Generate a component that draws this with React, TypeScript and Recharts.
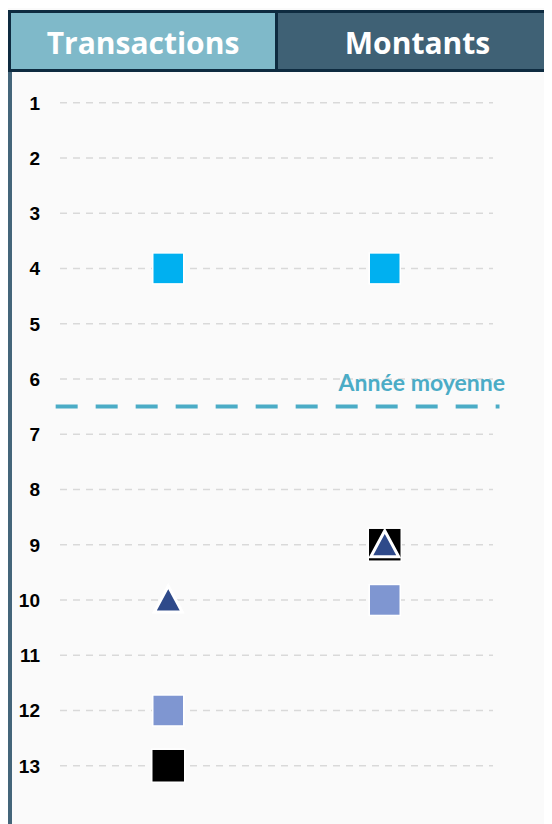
import React from 'react';
import { ScatterChart, Scatter, XAxis, YAxis, CartesianGrid, ReferenceLine } from 'recharts';

const columns = ['Transactions', 'Montants'];
const rankTicks = [1, 2, 3, 4, 5, 6, 7, 8, 9, 10, 11, 12, 13];

// rank per column: [Transactions, Montants]
const cyanSquare = [4, 4];
const navyTriangle = [10, 9];
const lavenderSquare = [12, 10];
const blackSquare = [13, 9];
const averageYear = 6.5;
const averageLabel = 'Année moyenne';

const toPoints = (ranks: number[]) => ranks.map((r, i) => ({ x: i, y: r }));

const square = (fill: string, size: number) => (props: any) => (
  <rect
    x={props.cx - size / 2}
    y={props.cy - size / 2}
    width={size}
    height={size}
    fill={fill}
    stroke="#ffffff"
    strokeWidth={1.5}
  />
);

const triangle = (props: any) => {
  const { cx, cy } = props;
  return (
    <path
      d={`M${cx},${cy - 14} L${cx + 14},${cy + 12} L${cx - 14},${cy + 12} Z`}
      fill="#2f4a8a"
      stroke="#ffffff"
      strokeWidth={3}
      strokeLinejoin="miter"
    />
  );
};

const RankTick = (props: any) => (
  <text
    x={props.x}
    y={props.y}
    dy={7}
    textAnchor="end"
    fontFamily="'Liberation Sans', Arial, sans-serif"
    fontWeight="bold"
    fontSize={19}
    fill="#000"
  >
    {props.payload.value}
  </text>
);

const AverageLabel = (props: any) => {
  const { viewBox } = props;
  return (
    <text
      x={viewBox.x + viewBox.width + 12}
      y={viewBox.y - 16}
      textAnchor="end"
      fontFamily="Lato, sans-serif"
      fontWeight="bold"
      fontSize={23}
      fill="#4bacc6"
    >
      {averageLabel}
    </text>
  );
};

const headerText: React.CSSProperties = {
  color: '#ffffff',
  fontFamily: "'Open Sans', sans-serif",
  fontWeight: 700,
  fontSize: 30,
  display: 'flex',
  alignItems: 'center',
  justifyContent: 'center',
  height: '100%',
  boxSizing: 'border-box',
  paddingTop: 3,
};

export default function App() {
  return (
    <div style={{ position: 'relative', width: 544, height: 816, background: '#fafafa', overflow: 'hidden' }}>
      <div
        style={{
          position: 'absolute',
          top: 2,
          left: 0,
          width: 552,
          height: 62,
          display: 'flex',
          border: '3px solid #0e2b40',
          boxSizing: 'border-box',
          background: '#0e2b40',
        }}
      >
        <div style={{ ...headerText, width: 264, background: '#7fb9c9' }}>{columns[0]}</div>
        <div style={{ ...headerText, flex: 1, marginLeft: 3, background: '#3f6175' }}>{columns[1]}</div>
      </div>
      <div style={{ position: 'absolute', left: 0, top: 64, width: 4, bottom: 0, background: '#44657a' }} />
      <div style={{ position: 'absolute', left: 0, top: 0 }}>
        <ScatterChart width={544} height={816} margin={{ top: 67, right: 59, bottom: 3, left: 0 }}>
          <CartesianGrid
            vertical={false}
            horizontalValues={rankTicks}
            stroke="#d9d9d9"
            strokeWidth={1.5}
            strokeDasharray="7 6"
          />
          <XAxis type="number" dataKey="x" domain={[-0.5, 1.5]} hide />
          <YAxis
            type="number"
            dataKey="y"
            domain={[0.5, 14]}
            reversed
            ticks={rankTicks}
            interval={0}
            width={52}
            axisLine={false}
            tickLine={false}
            tickSize={0}
            tickMargin={20}
            tick={<RankTick />}
          />
          <ReferenceLine
            segment={[
              { x: -0.52, y: averageYear },
              { x: 1.53, y: averageYear },
            ]}
            ifOverflow="visible"
            stroke="#4bacc6"
            strokeWidth={4}
            strokeDasharray="22 18"
          />
          <ReferenceLine y={averageYear} stroke="none" label={<AverageLabel />} />
          <Scatter data={toPoints(blackSquare)} shape={square('#000000', 33)} isAnimationActive={false} />
          <Scatter data={toPoints(cyanSquare)} shape={square('#00b0f0', 31)} isAnimationActive={false} />
          <Scatter data={toPoints(lavenderSquare)} shape={square('#7f96d1', 31)} isAnimationActive={false} />
          <Scatter data={toPoints(navyTriangle)} shape={triangle} isAnimationActive={false} />
        </ScatterChart>
      </div>
    </div>
  );
}
